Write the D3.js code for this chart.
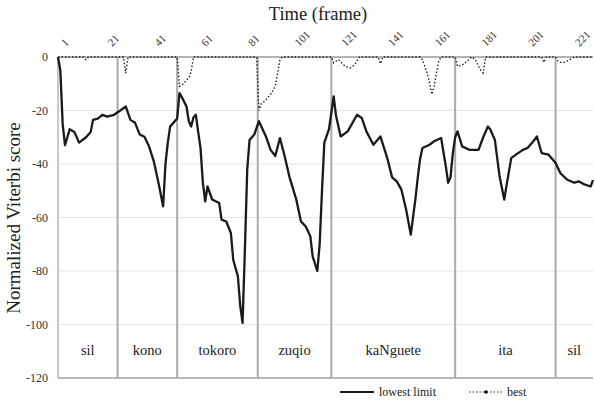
<!DOCTYPE html>
<html><head><meta charset="utf-8">
<script src="https://cdn.jsdelivr.net/npm/d3@7"></script>
<style>body{margin:0;background:#fff}</style>
</head><body><svg id="c" width="595" height="403"></svg>
<script>
// ---- data ----
const xTicks = [1,21,41,61,81,101,121,141,161,181,201,221];
const yTicks = [0,-20,-40,-60,-80,-100,-120];
const lowFrames = [1,2,3,4,5,6,8,10,13,15,16,18,20,22,25,27,30,32,34,36,38,40,42,44,46,47,48,49,50,52,53,54,56,57,58,59,60,61,62,63,64,65,67,70,71,73,75,76,78,79,80,81,82,83,85,87,90,92,94,96,98,100,103,105,107,109,110,112,113,114,115,117,119,120,122,125,129,131,133,136,139,142,144,146,148,150,152,154,155,156,157,160,162,165,167,168,169,170,171,172,174,177,181,183,185,186,188,190,192,193,195,197,200,202,204,206,208,211,214,216,219,222,224,226,229,230];
const lowValues = [0,-5,-25,-33,-30,-27,-28,-32,-30,-28,-23.5,-23,-21.6,-22.3,-21.6,-20.4,-18.5,-23.5,-24.6,-29,-29.8,-33.5,-39,-47,-55.8,-40,-32,-26,-25,-23,-13.5,-15,-18.5,-24,-26,-22.5,-21.6,-28,-34,-47,-54,-48.4,-53.3,-54.6,-60.8,-61.5,-65.8,-75.8,-82,-93,-99.4,-72,-42,-31,-29,-24,-29.7,-34.7,-37,-30.3,-37,-44.6,-53.3,-61.5,-63.3,-67,-74.5,-80,-70,-50,-32,-27,-14.7,-22,-29.7,-27.8,-21.6,-22.8,-27.8,-32.8,-29.7,-38,-45,-46.5,-49.6,-57,-66.4,-53,-45,-38,-34,-32.8,-31.5,-30.3,-40.9,-47,-45,-36,-30,-27.8,-33.4,-34.7,-34.7,-30,-26,-27,-31,-44.6,-53.3,-48,-37.8,-36.5,-34.7,-34,-32,-29.7,-35.9,-36.5,-39.6,-43.4,-45.9,-47,-46.5,-47.5,-48.4,-46];
const bestFrames = [1,12,13,14,29,30,31,52,53,54,55,56,57,58,59,86,87,88,89,90,91,92,93,94,95,96,97,118,119,121,124,126,128,130,138,139,140,156,157,158,159,160,161,162,163,164,165,171,172,173,174,175,176,177,178,179,180,181,182,183,184,208,209,210,214,215,216,218,219,220,221,222,230];
const bestValues = [0,0,-1,0,0,-6,0,0,-11,-10.5,-9.7,-8.5,-7.9,-5.4,0,0,-20,-17.5,-16.8,-16,-15,-14,-12.5,-11,-6,-1,0,0,-2.2,-1,-3.5,-4.1,-2.9,0,0,-2.5,0,0,-1,-3.5,-6,-9.5,-14,-11,-6,-1.5,0,0,-3.5,-3.2,-3,-2.5,-1.5,-1,0,-0.5,-1.5,-3.5,-5,-6,0,0,-2,0,0,-1.5,-2,-2,-1.5,-1,-0.5,0,0];
const segNames = ["sil","kono","tokoro","zuqio","kaNguete","ita","sil"];
const segBounds = [1,26.5,52,86.5,118,171,214,230];
const seriesNames = ["lowest limit","best"];

const FONT = "Liberation Serif";

// ---- layout ----
const svg = d3.select("#c");
const L=58,R=593,T=57,B=378;
const x = d3.scaleLinear().domain([1,230]).range([L,R]);
const y = d3.scaleLinear().domain([0,-120]).range([T,B]);

svg.append("g").selectAll("line").data(yTicks.filter(d=>d!==0&&d!==-120)).join("line")
  .attr("x1",L).attr("x2",R).attr("y1",d=>y(d)).attr("y2",d=>y(d))
  .attr("stroke","#e4e4e4").attr("stroke-width",1);
svg.append("line").attr("x1",L).attr("x2",R).attr("y1",y(-120)).attr("y2",y(-120)).attr("stroke","#b8b8b8").attr("stroke-width",2);
svg.append("line").attr("x1",L).attr("x2",L).attr("y1",T).attr("y2",B).attr("stroke","#b8b8b8").attr("stroke-width",1.5);

svg.append("g").selectAll("line").data(segBounds.slice(1,-1)).join("line")
  .attr("x1",d=>x(d)).attr("x2",d=>x(d)).attr("y1",T).attr("y2",B)
  .attr("stroke","#ababab").attr("stroke-width",2);
svg.append("g").selectAll("text").data(segNames).join("text")
  .attr("x",(d,i)=>(x(segBounds[i])+x(segBounds[i+1]))/2).attr("y",355)
  .attr("text-anchor","middle").attr("font-family",FONT).attr("font-size",14.5).attr("fill","#222").text(d=>d);

svg.append("line").attr("x1",L).attr("x2",R).attr("y1",y(0)).attr("y2",y(0)).attr("stroke","#9a9a9a").attr("stroke-width",1.5);

const yAx = svg.append("g").attr("transform",`translate(${L},0)`)
  .call(d3.axisLeft(y).tickValues(yTicks).tickSize(0).tickPadding(10).tickFormat(d=>d));
yAx.select(".domain").remove();
yAx.attr("font-family",FONT).attr("font-size",12);
yAx.selectAll("text").attr("fill","#333");

const xAx = svg.append("g").attr("transform",`translate(0,${T})`)
  .call(d3.axisTop(x).tickValues(xTicks).tickSize(0).tickFormat(d=>d));
xAx.select(".domain").remove();
xAx.attr("font-family",FONT).attr("font-size",11);
xAx.selectAll("text").attr("fill","#333")
  .attr("text-anchor","start").attr("transform","translate(7,-10) rotate(-45)").attr("x",0).attr("y",0).attr("dy",0);

svg.append("text").attr("x",318).attr("y",20).attr("text-anchor","middle").attr("font-family",FONT).attr("font-size",18.5).attr("fill","#222").text("Time (frame)");
svg.append("text").attr("transform","translate(20,218) rotate(-90)").attr("text-anchor","middle").attr("font-family",FONT).attr("font-size",19).attr("fill","#222").text("Normalized Viterbi score");

const line = d3.line().x(d=>x(d[0])).y(d=>y(d[1]));
const low = lowFrames.map((f,i)=>[f,lowValues[i]]);
const best = bestFrames.map((f,i)=>[f,bestValues[i]]);
svg.append("path").datum(best).attr("d",line).attr("fill","none").attr("stroke","#222").attr("stroke-width",1.4).attr("stroke-dasharray","1.5,2");
svg.append("path").datum(low).attr("d",line).attr("fill","none").attr("stroke","#1a1a1a").attr("stroke-width",2.3).attr("stroke-linejoin","round");

const lg = svg.append("g").attr("font-family",FONT).attr("font-size",12);
lg.append("line").attr("x1",340).attr("x2",374).attr("y1",392).attr("y2",392).attr("stroke","#1a1a1a").attr("stroke-width",2);
lg.append("text").attr("x",379).attr("y",396).attr("fill","#222").text(seriesNames[0]);
lg.append("line").attr("x1",469).attr("x2",503).attr("y1",392).attr("y2",392).attr("stroke","#222").attr("stroke-width",1.2).attr("stroke-dasharray","1.5,2");
lg.append("circle").attr("cx",486).attr("cy",392).attr("r",1.8).attr("fill","#111");
lg.append("text").attr("x",507).attr("y",396).attr("fill","#222").text(seriesNames[1]);
</script></body></html>
